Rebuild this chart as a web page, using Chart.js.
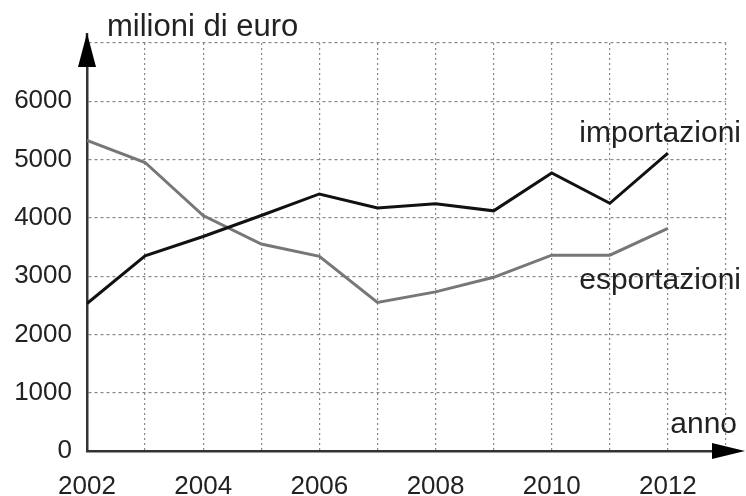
<!DOCTYPE html>
<html>
<head>
<meta charset="utf-8">
<script src="https://cdn.jsdelivr.net/npm/chart.js@4/dist/chart.umd.min.js"></script>
<style>
body{margin:0;background:#fff}
</style>
</head>
<body>
<canvas id="grafico" width="746" height="496"></canvas>
<script>
let anni=[2002,2003,2004,2005,2006,2007,2008,2009,2010,2011,2012]
let importazioni=[2530,3350,3680,4040,4410,4170,4240,4120,4770,4250,5110]
let esportazioni=[5330,4950,4040,3550,3340,2550,2730,2980,3360,3360,3820]
let tickAnni=[2002,2004,2006,2008,2010,2012]
let tickValori=[0,1000,2000,3000,4000,5000,6000]

let fonte='"Liberation Sans", Arial, sans-serif'

let frecce={
id:'frecce',
afterDraw(chart){
let ctx=chart.ctx
let a=chart.chartArea
ctx.save()
ctx.strokeStyle='#333'
ctx.fillStyle='#000'
ctx.lineWidth=2.5
ctx.beginPath()
ctx.moveTo(a.left,a.top)
ctx.lineTo(a.left,a.top-10)
ctx.moveTo(a.right,a.bottom)
ctx.lineTo(a.right+10,a.bottom)
ctx.stroke()
// freccia asse y
ctx.beginPath()
ctx.moveTo(a.left,a.top-10)
ctx.lineTo(a.left-9,a.top+24)
ctx.lineTo(a.left+9,a.top+24)
ctx.closePath()
ctx.fill()
// freccia asse x
ctx.beginPath()
ctx.moveTo(a.right+19,a.bottom)
ctx.lineTo(a.right-14,a.bottom-8)
ctx.lineTo(a.right-14,a.bottom+8)
ctx.closePath()
ctx.fill()
ctx.fillStyle='#222'
ctx.textBaseline='middle'
ctx.font='31px '+fonte
ctx.textAlign='left'
ctx.fillText('milioni di euro',a.left+20,a.top-16)
ctx.font='30px '+fonte
ctx.textAlign='right'
ctx.fillText('anno',a.right+11,a.bottom-26)
ctx.fillText('importazioni',a.right+15,a.top+91)
ctx.fillText('esportazioni',a.right+15,a.top+238)
ctx.restore()
}
}

new Chart(document.getElementById('grafico'),{
type:'line',
data:{
datasets:[{
label:'importazioni',
data:anni.map((x,i)=>({x:x,y:importazioni[i]})),
borderColor:'#111',
borderWidth:3,
pointRadius:0,
tension:0
},{
label:'esportazioni',
data:anni.map((x,i)=>({x:x,y:esportazioni[i]})),
borderColor:'#777',
borderWidth:3,
pointRadius:0,
tension:0
}]
},
options:{
responsive:false,
animation:false,
devicePixelRatio:1,
layout:{padding:{top:43,right:19,left:0,bottom:0}},
plugins:{legend:{display:false},tooltip:{enabled:false}},
scales:{
x:{
type:'linear',
min:2002,
max:2013,
afterFit(s){s.height=45},
afterBuildTicks(s){
let t=[]
for(let v=2002;v<=2013;v++)t.push({value:v})
s.ticks=t
},
ticks:{
autoSkip:false,
maxRotation:0,
padding:20,
color:'#222',
font:{family:fonte,size:26},
callback:v=>tickAnni.includes(v)?String(v):''
},
grid:{color:'#888',lineWidth:1.2,drawTicks:false},
border:{color:'#333',width:2.5,dash:[2,3]}
},
y:{
min:0,
max:7000,
afterFit(s){s.width=87},
ticks:{
stepSize:1000,
padding:15,
color:'#222',
font:{family:fonte,size:26},
callback:v=>tickValori.includes(v)?String(v):''
},
grid:{color:'#888',lineWidth:1.2,drawTicks:false},
border:{color:'#333',width:2.5,dash:[3,3]}
}
}
},
plugins:[frecce]
})
</script>
</body>
</html>
